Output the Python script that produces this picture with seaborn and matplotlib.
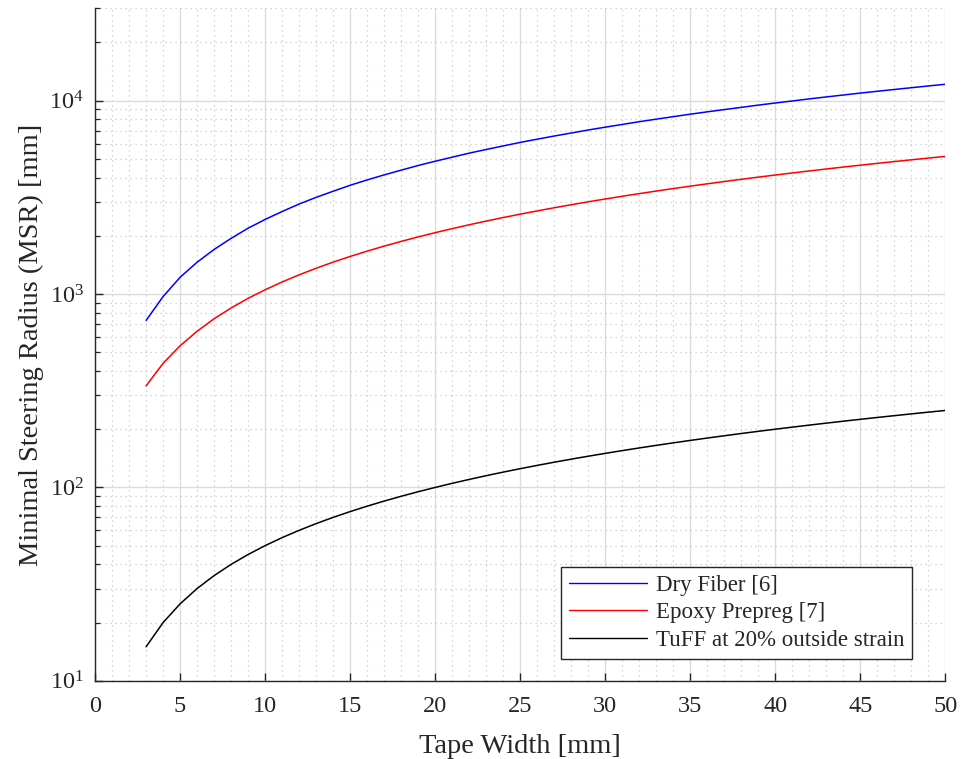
import matplotlib
matplotlib.use("Agg")
import matplotlib.pyplot as plt
import seaborn as sns
import pandas as pd
from matplotlib.ticker import LogLocator, MultipleLocator, FixedLocator

# Tape widths [mm]
tape_width = list(range(3, 51))

# Minimal steering radius [mm] for each tape width
dry_fiber = [730, 970, 1220, 1460, 1700, 1940, 2190, 2430, 2670, 2920,
             3160, 3400, 3650, 3890, 4130, 4370, 4620, 4860, 5100, 5350,
             5590, 5830, 6080, 6320, 6560, 6800, 7050, 7290, 7530, 7780,
             8020, 8260, 8510, 8750, 8990, 9230, 9480, 9720, 9960, 10210,
             10450, 10690, 10940, 11180, 11420, 11660, 11910, 12150]
epoxy_prepreg = [335, 438, 540, 642, 745, 847, 950, 1052, 1154, 1257,
                 1359, 1462, 1564, 1666, 1769, 1871, 1974, 2076, 2178, 2281,
                 2383, 2486, 2588, 2690, 2793, 2895, 2998, 3100, 3202, 3305,
                 3407, 3510, 3612, 3714, 3817, 3919, 4022, 4124, 4226, 4329,
                 4431, 4534, 4636, 4738, 4841, 4943, 5046, 5148]
tuff = [15, 20, 25, 30, 35, 40, 45, 50, 55, 60,
        65, 70, 75, 80, 85, 90, 95, 100, 105, 110,
        115, 120, 125, 130, 135, 140, 145, 150, 155, 160,
        165, 170, 175, 180, 185, 190, 195, 200, 205, 210,
        215, 220, 225, 230, 235, 240, 245, 250]

series_names = ["Dry Fiber [6]", "Epoxy Prepreg [7]", "TuFF at 20% outside strain"]
series_colors = ["#0000ff", "#ff0000", "#000000"]
x_ticks = [0, 5, 10, 15, 20, 25, 30, 35, 40, 45, 50]
y_ticks = [10, 100, 1000, 10000]
y_tick_labels = ["10$^{1}$", "10$^{2}$", "10$^{3}$", "10$^{4}$"]

df = pd.concat([
    pd.DataFrame({"w": tape_width, "r": vals, "series": name})
    for name, vals in zip(series_names, [dry_fiber, epoxy_prepreg, tuff])
])

sns.set_theme(style="white")
plt.rcParams["font.family"] = ["Liberation Serif", "DejaVu Serif"]
plt.rcParams["mathtext.fontset"] = "custom"
plt.rcParams["mathtext.rm"] = "Liberation Serif"
plt.rcParams["mathtext.it"] = "Liberation Serif"

fig = plt.figure(figsize=(9.63, 7.59), dpi=100)
ax = fig.add_axes([0.0987, 0.103, 0.883, 0.886])

sns.lineplot(data=df, x="w", y="r", hue="series", hue_order=series_names,
             palette=series_colors, linewidth=1.1, ax=ax, estimator=None)

ax.set_yscale("log")
ax.set_xlim(0, 50)
ax.set_ylim(10, 3e4)

ax.xaxis.set_major_locator(FixedLocator(x_ticks))
ax.xaxis.set_minor_locator(MultipleLocator(1))
ax.yaxis.set_major_locator(FixedLocator(y_ticks))
ax.yaxis.set_minor_locator(LogLocator(base=10, subs=range(2, 10)))
ax.set_xticklabels([str(t) for t in x_ticks])
ax.set_yticklabels(y_tick_labels)

ax.grid(which="major", color="#dcdcdc", linestyle="-", linewidth=1.0)
ax.grid(which="minor", color="#c8c8c8", linestyle=(0, (1, 3)), linewidth=0.9)
ax.set_axisbelow(True)

for side in ("top", "right"):
    ax.spines[side].set_visible(False)
for side in ("left", "bottom"):
    ax.spines[side].set_color("#262626")
    ax.spines[side].set_linewidth(1.0)

ax.tick_params(which="both", direction="in", colors="#262626", labelsize=17.5,
               left=True, bottom=True, pad=8)
ax.tick_params(axis="x", which="major", pad=11)
ax.tick_params(which="major", length=6, width=1.0)
ax.tick_params(axis="y", which="minor", length=3.5, width=0.9)
ax.tick_params(axis="x", which="minor", length=0)
for lbl in ax.get_xticklabels() + ax.get_yticklabels():
    lbl.set_color("#262626")

ax.set_xlabel("Tape Width [mm]", fontsize=20.5, color="#262626", labelpad=12)
ax.set_ylabel("Minimal Steering Radius (MSR) [mm]", fontsize=20.5, color="#262626", labelpad=4)

leg = ax.legend(loc="lower right", bbox_to_anchor=(0.961, 0.033), fontsize=16.5,
                frameon=True, fancybox=False, edgecolor="#262626",
                handlelength=3.4, borderpad=0.35, labelspacing=0.28, handletextpad=0.4,
                borderaxespad=0.0)
leg.get_frame().set_linewidth(1.0)
leg.get_frame().set_facecolor("white")
leg.get_frame().set_alpha(1.0)
for line in leg.get_lines():
    line.set_linewidth(1.0)

fig.savefig("out.png", dpi=100)
